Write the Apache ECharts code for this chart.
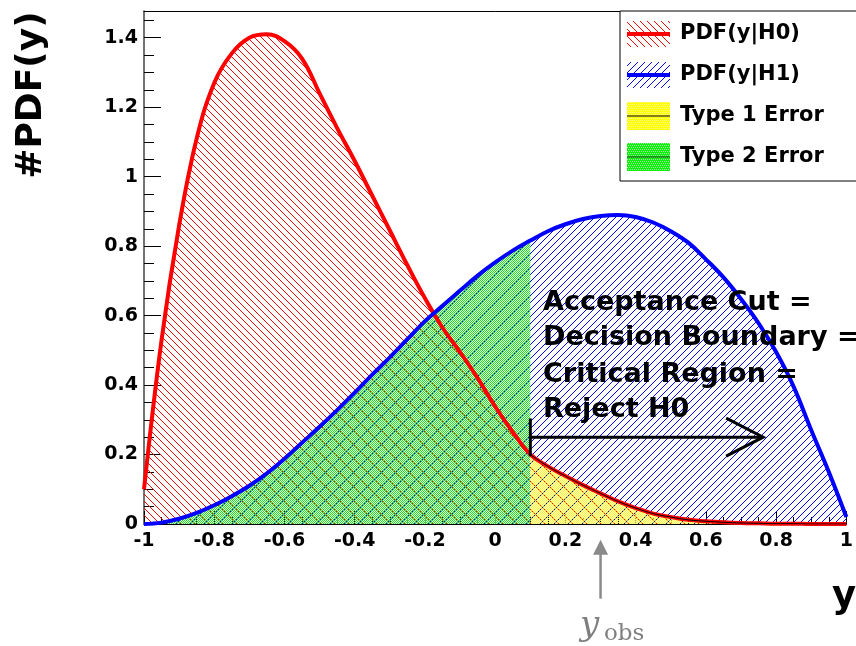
<!DOCTYPE html>
<html><head><meta charset="utf-8">
<script src="https://cdn.jsdelivr.net/npm/echarts@6/dist/echarts.min.js"></script>
<style>html,body{margin:0;padding:0;background:#fff}#c{width:856px;height:646px}</style>
</head><body><div id="c"></div>
<script>
// ---------- data ----------
const xValues = [-1.00,-0.95,-0.90,-0.85,-0.80,-0.75,-0.70,-0.65,-0.60,-0.55,-0.50,-0.45,-0.40,-0.35,-0.30,-0.25,-0.20,-0.15,-0.10,-0.05,
  0.00,0.05,0.10,0.15,0.20,0.25,0.30,0.35,0.40,0.45,0.50,0.55,0.60,0.65,0.70,0.75,0.80,0.85,0.90,0.95,1.00];
const pdfH0 = [0.10,0.53,0.86,1.11,1.27,1.355,1.40,1.41,1.39,1.34,1.24,1.14,1.045,0.945,0.845,0.745,0.65,0.565,0.495,0.42,
  0.338,0.265,0.20,0.166,0.138,0.112,0.088,0.065,0.046,0.030,0.020,0.012,0.008,0.005,0.003,0.002,0.001,0.001,0,0,0];
const pdfH1 = [0,0.004,0.015,0.032,0.054,0.08,0.11,0.146,0.188,0.234,0.28,0.328,0.378,0.43,0.48,0.532,0.584,0.628,0.672,0.715,
  0.753,0.787,0.816,0.843,0.863,0.878,0.887,0.89,0.884,0.868,0.843,0.81,0.762,0.71,0.648,0.578,0.495,0.395,0.27,0.15,0.02];
const cutValue = 0.1;       // acceptance cut
const obsValue = 0.3;       // y_obs marker
const legendNames = ['PDF(y|H0)','PDF(y|H1)','Type 1 Error','Type 2 Error'];
const annotationLines = ['Acceptance Cut =','Decision Boundary =','Critical Region =','Reject H0'];
const yAxisTitle = '#PDF(y)';
const xAxisTitle = 'y';
const xMin = -1, xMax = 1, xStep = 0.2;
const yMin = 0, yMax = 1.477, yStep = 0.2;
// arrow geometry in data units
const cutArrow = { y: 0.25, xEnd: 0.763, barLow: 0.195, barHigh: 0.304 };
const obsArrow = { tip: -0.045, tail: -0.215 };

// ---------- patterns ----------
function hatch(color, dir, size) {
  const c = document.createElement('canvas'); c.width = c.height = size;
  const g = c.getContext('2d'); g.strokeStyle = color; g.lineWidth = 1;
  g.beginPath();
  for (let k = -1; k <= 1; k++) {
    if (dir > 0) { g.moveTo(k*size, 0); g.lineTo(k*size + size, size); }
    else { g.moveTo(k*size, size); g.lineTo(k*size + size, 0); }
  }
  g.stroke(); return c;
}
function dots(color) {
  const c = document.createElement('canvas'); c.width = c.height = 2;
  const g = c.getContext('2d'); g.fillStyle = color;
  g.fillRect(0,0,1,1); g.fillRect(1,1,1,1);
  g.fillStyle = 'rgba(255,255,255,0.6)'; g.fillRect(1,0,1,1);
  return c;
}
const redHatch = hatch('#ff0000', 1, 7);
const blueHatch = hatch('#0000ff', -1, 7);
const greenDots = dots('#10ee10');
const yellowDots = dots('#ffff00');

function hatchIcon(color, dir, lineColor) {
  const c = document.createElement('canvas'); c.width = 48; c.height = 28;
  const g = c.getContext('2d');
  g.save(); g.beginPath(); g.rect(0, 1, 43, 26); g.clip();
  g.strokeStyle = color; g.lineWidth = 1; g.beginPath();
  for (let x = -30; x < 50; x += 7) {
    if (dir > 0) { g.moveTo(x, 0); g.lineTo(x + 28, 28); } else { g.moveTo(x, 28); g.lineTo(x + 28, 0); }
  }
  g.stroke(); g.restore();
  g.strokeStyle = lineColor; g.lineWidth = 4;
  g.beginPath(); g.moveTo(0, 14); g.lineTo(43, 14); g.stroke();
  return 'image://' + c.toDataURL();
}
function fillIcon(color, lineColor) {
  const c = document.createElement('canvas'); c.width = 48; c.height = 28;
  const g = c.getContext('2d');
  g.fillStyle = color; g.fillRect(0, 0, 43, 28);
  g.fillStyle = 'rgba(255,255,255,0.6)';
  for (let y = 0; y < 28; y += 2) for (let x = (y / 2) % 2; x < 43; x += 2) g.fillRect(x, y, 1, 1);
  g.strokeStyle = lineColor; g.lineWidth = 1.2;
  g.beginPath(); g.moveTo(0, 14); g.lineTo(43, 14); g.stroke();
  return 'image://' + c.toDataURL();
}
const icons = [hatchIcon('#ff0000', 1, '#ff0000'), hatchIcon('#0000ff', -1, '#0000ff'),
  fillIcon('#ffff00', '#000'), fillIcon('#10ee10', '#114411')];

const pairs = (ys) => xValues.map((x, i) => [x, ys[i]]);
const h0Data = pairs(pdfH0), h1Data = pairs(pdfH1);
const type2Data = h1Data.filter(p => p[0] <= cutValue + 1e-9);
const type1Data = h0Data.filter(p => p[0] >= cutValue - 1e-9);

const FONT = "'DejaVu Sans', sans-serif";
const fmt = (v) => String(parseFloat(v.toFixed(2)));
const onGrid = (v, s) => Math.abs(v/s - Math.round(v/s)) < 1e-6;

const chart = echarts.init(document.getElementById('c'), null, {renderer: 'canvas'});
const base = { type: 'line', smooth: 0.4, showSymbol: false, symbol: 'none', silent: true };
chart.setOption({
  animation: false,
  backgroundColor: '#fff',
  grid: { left: 144, right: 2, top: 11, bottom: 122, containLabel: false },
  legend: {
    orient: 'vertical', left: 620, top: 11, padding: [9, 90, 10, 7],
    itemGap: 13, itemWidth: 48, itemHeight: 28,
    borderColor: '#000', borderWidth: 1, backgroundColor: '#fff',
    selectedMode: false,
    textStyle: { fontFamily: FONT, fontWeight: 'bold', fontSize: 21, color: '#000' },
    data: legendNames.map((n, i) => ({ name: n, icon: icons[i] }))
  },
  xAxis: [{
    type: 'value', min: xMin, max: xMax, interval: xStep,
    axisLine: { show: true, onZero: false, lineStyle: { color: '#000', width: 1 } },
    axisTick: { show: true, inside: true, length: 13, lineStyle: { color: '#000', width: 1 } },
    minorTick: { show: true, splitNumber: 4, length: 7, lineStyle: { color: '#000', width: 1 } },
    splitLine: { show: false },
    axisLabel: { fontFamily: FONT, fontWeight: 'bold', fontSize: 19, color: '#000', margin: 8,
      showMaxLabel: true, showMinLabel: true, formatter: (v) => onGrid(v, xStep) ? fmt(v) : '' }
  }, {
    type: 'value', position: 'top', min: xMin, max: xMax,
    axisLine: { show: true, onZero: false, lineStyle: { color: '#000', width: 1 } },
    axisTick: { show: false }, axisLabel: { show: false }, splitLine: { show: false }
  }],
  yAxis: {
    type: 'value', min: yMin, max: yMax, interval: yStep,
    axisLine: { show: true, onZero: false, lineStyle: { color: '#444', width: 1.5 } },
    axisTick: { show: true, inside: true, length: 17, lineStyle: { color: '#000', width: 1 } },
    minorTick: { show: true, splitNumber: 4, length: 10, lineStyle: { color: '#000', width: 1 } },
    splitLine: { show: false },
    axisLabel: { fontFamily: FONT, fontWeight: 'bold', fontSize: 19, color: '#000', margin: 6,
      formatter: (v) => onGrid(v, yStep) ? fmt(v) : '' }
  },
  series: [
    Object.assign({}, base, { name: 'PDF(y|H0)', data: h0Data, lineStyle: { width: 0 },
      areaStyle: { color: { image: redHatch, repeat: 'repeat' }, opacity: 1 } }),
    Object.assign({}, base, { name: 'PDF(y|H1)', data: h1Data, lineStyle: { width: 0 },
      areaStyle: { color: { image: blueHatch, repeat: 'repeat' }, opacity: 1 } }),
    Object.assign({}, base, { name: 'PDF(y|H0)', data: h0Data, lineStyle: { width: 4, color: '#ff0000' } }),
    Object.assign({}, base, { name: 'Type 2 Error', data: type2Data, lineStyle: { width: 1, color: '#000' },
      areaStyle: { color: { image: greenDots, repeat: 'repeat' }, opacity: 1 } }),
    Object.assign({}, base, { name: 'Type 1 Error', data: type1Data, lineStyle: { width: 1, color: '#000' },
      areaStyle: { color: { image: yellowDots, repeat: 'repeat' }, opacity: 1 } }),
    Object.assign({}, base, { name: 'PDF(y|H1)', data: h1Data, lineStyle: { width: 4, color: '#0000ff' } })
  ]
});

// ---------- annotations ----------
const P = (x, y) => chart.convertToPixel({ xAxisIndex: 0, yAxisIndex: 0 }, [x, y]);
const a0 = P(cutValue, cutArrow.y), a1 = P(cutArrow.xEnd, cutArrow.y);
const bLo = P(cutValue, cutArrow.barLow), bHi = P(cutValue, cutArrow.barHigh);
const gTip = P(obsValue, obsArrow.tip), gTail = P(obsValue, obsArrow.tail);
const graphics = [
  { type: 'line', shape: { x1: a0[0], y1: a0[1], x2: a1[0], y2: a1[1] }, style: { stroke: '#000', lineWidth: 3 }, z: 100 },
  { type: 'line', shape: { x1: bLo[0], y1: bLo[1], x2: bHi[0], y2: bHi[1] }, style: { stroke: '#000', lineWidth: 3 }, z: 100 },
  { type: 'polyline', shape: { points: [[a1[0]-37, a1[1]-19], [a1[0], a1[1]], [a1[0]-37, a1[1]+19]] }, style: { stroke: '#000', lineWidth: 3, fill: null }, z: 100 },
  { type: 'line', shape: { x1: gTail[0], y1: gTail[1], x2: gTip[0], y2: gTip[1] + 12 }, style: { stroke: '#8a8a8a', lineWidth: 2.5 }, z: 100 },
  { type: 'polygon', shape: { points: [[gTip[0], gTip[1]], [gTip[0]-7.5, gTip[1]+15], [gTip[0]+7.5, gTip[1]+15]] }, style: { fill: '#8a8a8a' }, z: 100 },
  { type: 'text', x: 32, y: 95, rotation: Math.PI/2, z: 100,
    style: { text: yAxisTitle, font: "bold 36px 'DejaVu Sans'", fill: '#000', align: 'center', verticalAlign: 'middle' } },
  { type: 'text', x: 832, y: 597, z: 100,
    style: { text: xAxisTitle, font: "bold 37px 'DejaVu Sans'", fill: '#000', align: 'left', verticalAlign: 'middle' } },
  { type: 'text', x: 580, y: 626, z: 100,
    style: { text: 'y', font: "italic 34px 'DejaVu Serif'", fill: '#7f7f7f', align: 'left', verticalAlign: 'middle' } },
  { type: 'text', x: 604, y: 634, z: 100,
    style: { text: 'obs', font: "23px 'DejaVu Serif'", fill: '#7f7f7f', align: 'left', verticalAlign: 'middle' } }
];
const lineBase = [303, 338, 375, 410];
annotationLines.forEach((t, i) => graphics.push({ type: 'text', x: 543, y: lineBase[i], z: 100,
  style: { text: t, font: "bold 27px 'DejaVu Sans'", fill: '#000', align: 'left', verticalAlign: 'middle' } }));
chart.setOption({ graphic: graphics });
</script></body></html>
